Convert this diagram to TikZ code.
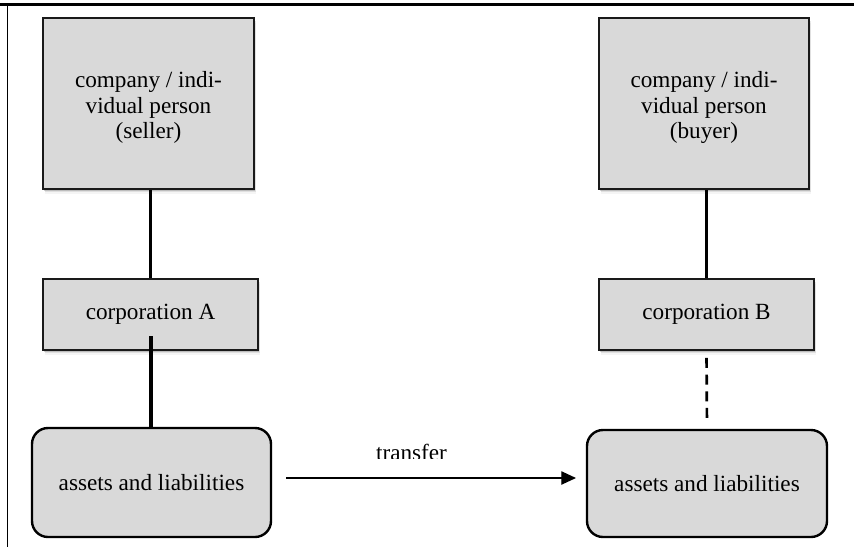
\documentclass[tikz,border=0pt]{standalone}
\usepackage{fontspec}
\setmainfont{Liberation Serif}
\usetikzlibrary{shadows,arrows.meta,calc}
\definecolor{boxfill}{HTML}{D9D9D9}
\definecolor{boxline}{HTML}{1A1A1A}
\tikzset{
  every node/.style={font=\fontsize{17.4pt}{18.9pt}\selectfont},
  shadowbox/.style={draw=boxline, line width=1.9pt, fill=boxfill,
    drop shadow={shadow xshift=0.6pt, shadow yshift=-1.2pt, opacity=0.25, fill=black!70},
    drop shadow={shadow xshift=1.2pt, shadow yshift=-2.4pt, opacity=0.15, fill=black!60},
    drop shadow={shadow xshift=1.8pt, shadow yshift=-3.4pt, opacity=0.08, fill=black!50}},
  boxtext/.style={align=center, inner sep=0pt},
  roundbox/.style={draw=black, line width=1.8pt, fill=boxfill, rounded corners=12pt, align=center},
  thinlink/.style={line width=1.6pt, black},
  thicklink/.style={line width=2.3pt, black},
  dashlink/.style={line width=2pt, black, dash pattern=on 7.5pt off 5pt},
}
\begin{document}
\begin{tikzpicture}[x=0.75pt, y=-0.75pt]
\useasboundingbox (0,0) rectangle (854,547);
% frame
\draw[line width=1.8pt] (0,4.5) -- (854,4.5);
\draw[line width=0.9pt] (7.5,4.5) -- (7.5,547);

\node[shadowbox, minimum width=158.25pt, minimum height=128.25pt] (seller) at (148.5,103.5) {};
\node[boxtext] (sellertext) at ([yshift=-3pt]seller.center) {company / indi-\\vidual person\\(seller)};
\node[shadowbox, minimum width=157.5pt, minimum height=128.25pt] (buyer) at (704,103.5) {};
\node[boxtext] (buyertext) at ([yshift=-3pt]buyer.center) {company / indi-\\vidual person\\(buyer)};
\node[shadowbox, minimum width=161.25pt, minimum height=53.25pt] (corpA) at (150.5,314.5) {corporation A};
\node[shadowbox, minimum width=161.25pt, minimum height=53.25pt] (corpB) at (706.5,314.5) {corporation B};
\node[roundbox, minimum width=179.25pt, minimum height=81.75pt] (assetsA) at (151.5,482.5) {assets and liabilities};
\node[roundbox, minimum width=180pt, minimum height=80.25pt] (assetsB) at (707,483.5) {assets and liabilities};

% connectors
\draw[thinlink] (corpA.north) -- (corpA.north |- seller.south);
\draw[thinlink] (corpB.north) -- (corpB.north |- buyer.south);
\coordinate (a1) at (151,336);
\draw[thicklink] (a1) -- (a1 |- assetsA.north);
\draw[dashlink, shorten <=5pt, shorten >=8pt] (corpB.south) -- (assetsB.north);

\coordinate (t1) at (286,478);
\coordinate (t2) at (576,478);
\draw[line width=0.9pt, -{Triangle[length=11pt,width=10pt]}] (t1) -- (t2);
\begin{scope}
  \clip (300,400) rectangle (520,458.5);
  \node[anchor=base, inner sep=0pt] (lbl) at (411.5,460) {transfer};
\end{scope}
\end{tikzpicture}
\end{document}
